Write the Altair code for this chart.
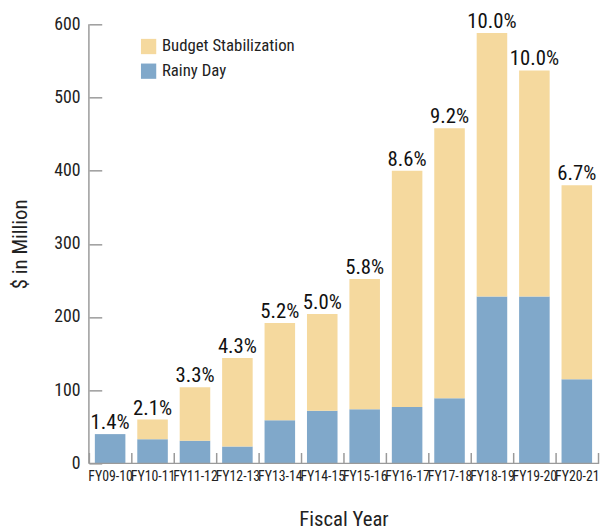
import altair as alt
import pandas as pd

years = ["FY09-10", "FY10-11", "FY11-12", "FY12-13", "FY13-14", "FY14-15",
         "FY15-16", "FY16-17", "FY17-18", "FY18-19", "FY19-20", "FY20-21"]
rainy_day = [40, 33, 31, 23, 59, 72, 74, 77, 89, 228, 228, 115]
budget_stab = [0, 27, 73, 121, 133, 132, 178, 323, 369, 360, 309, 265]
pct_labels = ["1.4%", "2.1%", "3.3%", "4.3%", "5.2%", "5.0%",
              "5.8%", "8.6%", "9.2%", "10.0%", "10.0%", "6.7%"]
series = ["Budget Stabilization", "Rainy Day"]
colors = ["#F5D99E", "#80A8CA"]
y_ticks = [0, 100, 200, 300, 400, 500, 600]

rows = []
for i, yr in enumerate(years):
    rows.append({"year": yr, "fund": "Rainy Day", "value": rainy_day[i], "ord": 0})
    rows.append({"year": yr, "fund": "Budget Stabilization", "value": budget_stab[i], "ord": 1})
df = pd.DataFrame(rows)
tot = pd.DataFrame({"year": years,
                    "total": [r + b for r, b in zip(rainy_day, budget_stab)],
                    "pct": pct_labels})

FONT = "Liberation Sans Narrow, Roboto Condensed, DejaVu Sans Condensed, sans-serif"
YTITLE = "$ in Million"
AX = "#9a9a9a"

x_enc = alt.X("year:N", sort=years,
              scale=alt.Scale(paddingInner=0, paddingOuter=0),
              axis=alt.Axis(title="Fiscal Year", labelAngle=0, tickBand="extent",
                            offset=-11, tickSize=11, domain=False, labelPadding=6,
                            labelFontSize=14, titleFontSize=21, titlePadding=26,
                            labelOverlap=False, tickColor=AX, tickWidth=1.5,
                            labelColor="#222", titleColor="#222", titleFontWeight="normal"))

bars = alt.Chart(df).mark_bar(width=alt.RelativeBandSize(0.72)).encode(
    x=x_enc,
    y=alt.Y("value:Q", stack="zero", title=YTITLE,
            scale=alt.Scale(domain=[0, 600], nice=False),
            axis=alt.Axis(values=y_ticks, offset=-13, tickSize=13, domain=False, grid=False,
                          labelPadding=9, labelFontSize=18, titleFontSize=21, titlePadding=24,
                          tickColor=AX, tickWidth=1.5, labelColor="#222", titleColor="#222",
                          titleFontWeight="normal")),
    color=alt.Color("fund:N", scale=alt.Scale(domain=series, range=colors),
                    legend=alt.Legend(title=None, orient="none", legendX=52, legendY=14,
                                      padding=0, symbolType="square", symbolSize=240,
                                      symbolStrokeWidth=0, labelFontSize=17, rowPadding=7,
                                      labelColor="#222", labelOffset=5)),
    order=alt.Order("ord:Q"),
)

labels = alt.Chart(tot).mark_text(baseline="alphabetic", dy=-5, fontSize=21, color="#111").encode(
    x=alt.X("year:N", sort=years),
    y=alt.Y("total:Q", title=YTITLE),
    text="pct:N",
)

ydomain = alt.Chart(pd.DataFrame({"a": [0]})).mark_rule(color=AX, strokeWidth=1.5).encode(
    x=alt.value(0), y=alt.datum(0), y2=alt.datum(600))
xdomain = alt.Chart(pd.DataFrame({"a": [0]})).mark_rule(color=AX, strokeWidth=1.5).encode(
    x=alt.value(0), x2=alt.value(517), y=alt.datum(0))

chart = alt.layer(bars, labels, ydomain, xdomain).properties(
    width=516, height=445,
    autosize=alt.AutoSizeParams(type="none"),
    padding={"left": 82, "top": 13, "right": 2, "bottom": 65},
).configure(font=FONT).configure_view(stroke=None)

chart.save("out.html", embed_options={"renderer": "svg", "actions": False})
